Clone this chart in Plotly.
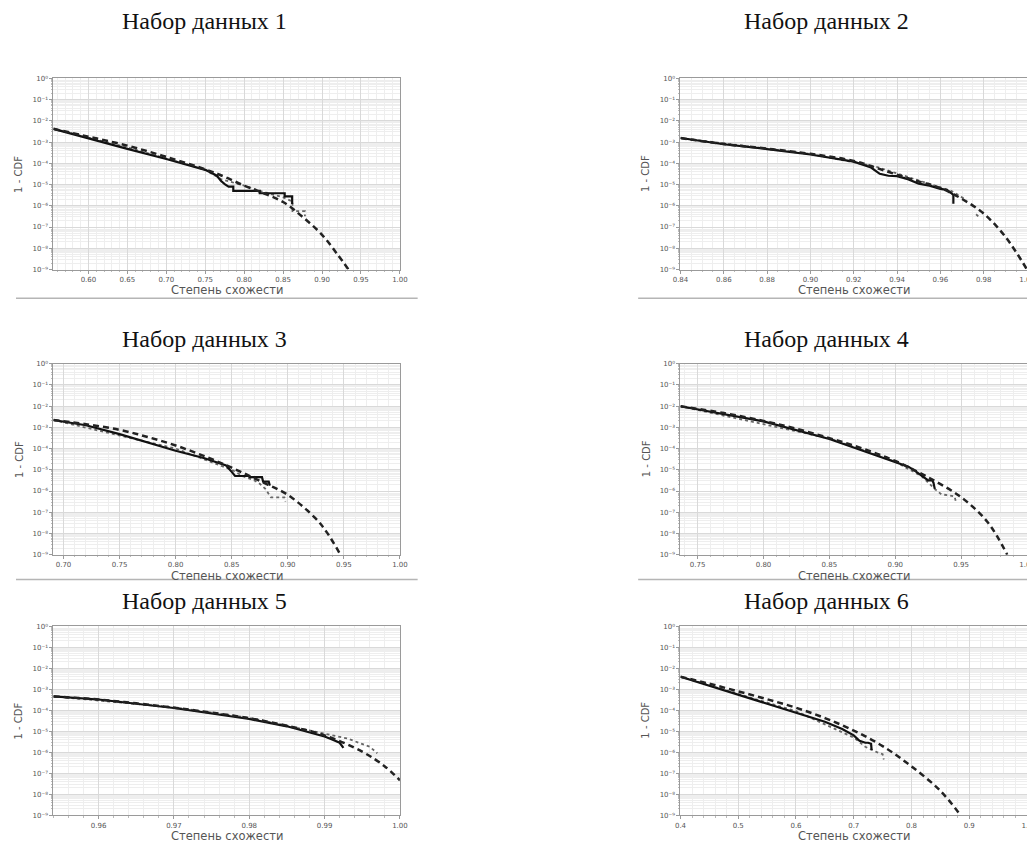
import plotly.graph_objects as go

# page body has an 8px default margin; the figure is sized to fit the remaining window
OFF = 8
W, H = 1035 - OFF, 842 - OFF

titles = ["Набор данных 1", "Набор данных 2", "Набор данных 3",
          "Набор данных 4", "Набор данных 5", "Набор данных 6"]
x_label = "Степень схожести"
y_label = "1 - CDF"

# x ranges and major ticks per panel
x_ranges = [[0.555, 1.0], [0.84, 1.0], [0.691, 1.0], [0.737, 1.0], [0.954, 1.0], [0.4, 1.0]]
x_ticks = [
    [0.60, 0.65, 0.70, 0.75, 0.80, 0.85, 0.90, 0.95, 1.00],
    [0.84, 0.86, 0.88, 0.90, 0.92, 0.94, 0.96, 0.98, 1.00],
    [0.70, 0.75, 0.80, 0.85, 0.90, 0.95, 1.00],
    [0.75, 0.80, 0.85, 0.90, 0.95, 1.00],
    [0.96, 0.97, 0.98, 0.99, 1.00],
    [0.4, 0.5, 0.6, 0.7, 0.8, 0.9, 1.0],
]
x_fmt = [".2f", ".2f", ".2f", ".2f", ".2f", ".1f"]
x_minor = [0.01, 0.005, 0.01, 0.01, 0.002, 0.02]

y_tick_vals = [1e0, 1e-1, 1e-2, 1e-3, 1e-4, 1e-5, 1e-6, 1e-7, 1e-8, 1e-9]
y_tick_text = ["10⁰", "10⁻¹", "10⁻²", "10⁻³", "10⁻⁴", "10⁻⁵", "10⁻⁶", "10⁻⁷", "10⁻⁸", "10⁻⁹"]

# ---- Panel 1 ----
fit1_x = [0.555, 0.60, 0.65, 0.70, 0.75, 0.775, 0.80, 0.825, 0.85, 0.875, 0.90, 0.92, 0.934]
fit1_y = [4.2e-3, 1.8e-3, 6.8e-4, 2.0e-4, 5.2e-5, 2.3e-5, 8.9e-6, 3.9e-6, 1.5e-6, 3.0e-7, 4.3e-8, 5.0e-9, 1.0e-9]
emp1_x = [0.555, 0.60, 0.65, 0.70, 0.75, 0.765, 0.77, 0.775, 0.78, 0.786, 0.786, 0.82, 0.82, 0.852, 0.852, 0.8616, 0.8616]
emp1_y = [4.2e-3, 1.45e-3, 4.8e-4, 1.6e-4, 4.9e-5, 2.6e-5, 1.5e-5, 1.05e-5, 8e-6, 8e-6, 5e-6, 5e-6, 3.9e-6, 3.9e-6, 2.75e-6, 2.75e-6, 1.2e-6]
alt1_x = [0.555, 0.65, 0.75, 0.77, 0.80, 0.82, 0.85, 0.862, 0.862, 0.878, 0.878]
alt1_y = [4.2e-3, 5.6e-4, 5.0e-5, 1.8e-5, 8.9e-6, 5e-6, 2.5e-6, 1.6e-6, 5.6e-7, 5.6e-7, 3.2e-7]

# ---- Panel 2 ----
fit2_x = [0.84, 0.86, 0.88, 0.90, 0.92, 0.93, 0.94, 0.95, 0.96, 0.97, 0.98, 0.99, 1.0]
fit2_y = [1.55e-3, 8.1e-4, 4.9e-4, 2.8e-4, 1.3e-4, 6.3e-5, 2.9e-5, 1.4e-5, 6.9e-6, 2.1e-6, 4.3e-7, 3.5e-8, 1e-9]
emp2_x = [0.84, 0.86, 0.88, 0.90, 0.92, 0.928, 0.932, 0.936, 0.94, 0.945, 0.95, 0.955, 0.96, 0.963, 0.965, 0.966, 0.966]
emp2_y = [1.55e-3, 7.9e-4, 4.7e-4, 2.6e-4, 1.2e-4, 6.3e-5, 3.2e-5, 2.6e-5, 2.5e-5, 1.8e-5, 1.1e-5, 8.9e-6, 6.3e-6, 5.6e-6, 4e-6, 3.2e-6, 1.26e-6]
alt2_x = [0.84, 0.90, 0.93, 0.95, 0.96, 0.965, 0.97, 0.972, None, 0.9765, 0.9775]
alt2_y = [1.55e-3, 2.75e-4, 7.1e-5, 1.6e-5, 7.9e-6, 5e-6, 2.5e-6, 2e-6, None, 4e-7, 3.2e-7]

# ---- Panel 3 ----
fit3_x = [0.691, 0.72, 0.75, 0.775, 0.80, 0.825, 0.85, 0.875, 0.90, 0.925, 0.935, 0.947]
fit3_y = [2.2e-3, 1.4e-3, 7.6e-4, 3.5e-4, 1.4e-4, 4.5e-5, 1.26e-5, 3.0e-6, 6.6e-7, 5e-8, 1.1e-8, 1e-9]
emp3_x = [0.691, 0.72, 0.75, 0.775, 0.80, 0.825, 0.845, 0.85, 0.853, 0.865, 0.866, 0.877, 0.878, 0.883, 0.884]
emp3_y = [2.2e-3, 1.25e-3, 4.8e-4, 2.0e-4, 7.9e-5, 3.6e-5, 1.6e-5, 8e-6, 5.1e-6, 5.1e-6, 4.5e-6, 4.5e-6, 2.8e-6, 2.8e-6, 1.8e-6]
alt3_x = [0.691, 0.80, 0.85, 0.86, 0.87, 0.875, 0.88, 0.885, 0.89, 0.897, 0.898]
alt3_y = [2.2e-3, 1e-4, 1e-5, 5e-6, 3.2e-6, 2.2e-6, 1.26e-6, 5e-7, 5e-7, 5e-7, 3.2e-7]

# ---- Panel 4 ----
fit4_x = [0.737, 0.77, 0.80, 0.825, 0.85, 0.875, 0.90, 0.925, 0.95, 0.97, 0.985]
fit4_y = [9.8e-3, 4.7e-3, 2.0e-3, 8.5e-4, 3.1e-4, 1e-4, 2.6e-5, 4.4e-6, 5.1e-7, 3.5e-8, 1e-9]
emp4_x = [0.737, 0.80, 0.85, 0.90, 0.91, 0.915, 0.92, 0.925, 0.928, 0.929, 0.93]
emp4_y = [9.8e-3, 1.9e-3, 2.8e-4, 2.2e-5, 1.4e-5, 8.9e-6, 5.6e-6, 3.2e-6, 3.2e-6, 2.5e-6, 1.26e-6]
alt4_x = [0.737, 0.85, 0.90, 0.92, 0.93, 0.935, 0.94, 0.945, 0.946]
alt4_y = [9.8e-3, 3e-4, 2.4e-5, 5e-6, 1.26e-6, 7e-7, 6.3e-7, 5.6e-7, 3.2e-7]

# ---- Panel 5 ----
fit5_x = [0.954, 0.96, 0.965, 0.97, 0.975, 0.98, 0.985, 0.99, 0.995, 0.998, 1.0]
fit5_y = [4.5e-4, 3.2e-4, 2.1e-4, 1.3e-4, 7.6e-5, 4.1e-5, 1.8e-5, 6.3e-6, 1.05e-6, 2.1e-7, 4.6e-8]
emp5_x = [0.954, 0.96, 0.97, 0.98, 0.985, 0.99, 0.991, 0.992, 0.9925]
emp5_y = [4.5e-4, 3.2e-4, 1.26e-4, 3.8e-5, 1.7e-5, 5.6e-6, 4e-6, 2.8e-6, 1.6e-6]
alt5_x = [0.954, 0.97, 0.98, 0.99, 0.993, 0.996, 0.997]
alt5_y = [4.5e-4, 1.35e-4, 4.3e-5, 7.6e-6, 4.5e-6, 1.8e-6, 8.9e-7]

# ---- Panel 6 ----
fit6_x = [0.4, 0.45, 0.5, 0.55, 0.6, 0.65, 0.7, 0.75, 0.8, 0.85, 0.885]
fit6_y = [3.9e-3, 1.8e-3, 7.8e-4, 3.3e-4, 1.3e-4, 4.2e-5, 1.07e-5, 1.95e-6, 2.1e-7, 1.45e-8, 1e-9]
emp6_x = [0.4, 0.5, 0.6, 0.65, 0.68, 0.7, 0.71, 0.72, 0.725, 0.73, 0.731]
emp6_y = [3.9e-3, 5.5e-4, 7.8e-5, 2.8e-5, 1.26e-5, 6.3e-6, 3.5e-6, 2.8e-6, 2.8e-6, 2.5e-6, 1.26e-6]
alt6_x = [0.4, 0.6, 0.7, 0.72, 0.74, 0.75, 0.752]
alt6_y = [3.9e-3, 8.9e-5, 5e-6, 1.8e-6, 1e-6, 8e-7, 4.5e-7]

fits = [(fit1_x, fit1_y), (fit2_x, fit2_y), (fit3_x, fit3_y), (fit4_x, fit4_y), (fit5_x, fit5_y), (fit6_x, fit6_y)]
emps = [(emp1_x, emp1_y), (emp2_x, emp2_y), (emp3_x, emp3_y), (emp4_x, emp4_y), (emp5_x, emp5_y), (emp6_x, emp6_y)]
alts = [(alt1_x, alt1_y), (alt2_x, alt2_y), (alt3_x, alt3_y), (alt4_x, alt4_y), (alt5_x, alt5_y), (alt6_x, alt6_y)]

# layout geometry in window pixels
col_px = [(46, 398), (683, 1035)]
row_px = [(75, 268), (363, 556), (628, 819)]
title_cx = [199, 831]
title_cy = [17, 338, 603]
sep_y = [297, 581]
sep_x = [(8, 416), (640, 1035)]


def px_x(p):
    return (p - OFF) / W


def px_y(p):
    return 1 - (p - OFF) / H


minor_y = [m * 10.0 ** (-e) for e in range(1, 10) for m in range(2, 10)]

fig = go.Figure()
layout = dict(width=W, height=H, margin=dict(l=0, r=0, t=0, b=0),
              paper_bgcolor="white", plot_bgcolor="white", showlegend=False)
annotations = []
shapes = []

tick_font = dict(family="DejaVu Sans", size=7, color="#555555")

for i in range(6):
    r, c = divmod(i, 2)
    n = "" if i == 0 else str(i + 1)
    xa, ya = "x" + n, "y" + n
    x0, x1 = col_px[c]
    y0, y1 = row_px[r]
    dom_x = [px_x(x0), min(1.0, px_x(x1))]
    dom_y = [px_y(y1), px_y(y0)]

    fx, fy = fits[i]
    ex, ey = emps[i]
    ax_, ay_ = alts[i]
    fig.add_trace(go.Scatter(x=ax_, y=ay_, mode="lines", xaxis=xa, yaxis=ya,
                             line=dict(color="#666666", width=1.8, dash="dot")))
    fig.add_trace(go.Scatter(x=ex, y=ey, mode="lines", xaxis=xa, yaxis=ya,
                             line=dict(color="#111111", width=2.2)))
    fig.add_trace(go.Scatter(x=fx, y=fy, mode="lines", xaxis=xa, yaxis=ya,
                             line=dict(color="#222222", width=2.5, dash="6px,4px", shape="spline")))

    layout["xaxis" + n] = dict(
        domain=dom_x, anchor=ya, range=x_ranges[i], tickmode="array",
        tickvals=x_ticks[i], tickformat=x_fmt[i], tickfont=tick_font,
        showgrid=True, gridcolor="#d9d9d9", gridwidth=1,
        showline=True, linecolor="#9a9a9a", linewidth=1, mirror=True,
        ticks="outside", ticklen=3, tickcolor="#9a9a9a", zeroline=False,
        minor=dict(dtick=x_minor[i], tick0=0, showgrid=True, gridcolor="#eeeeee", gridwidth=1,
                   ticks="outside", ticklen=1.5, tickcolor="#bbbbbb"),
        fixedrange=True,
    )
    layout["yaxis" + n] = dict(
        domain=dom_y, anchor=xa, type="log", range=[-9, 0], tickmode="array",
        tickvals=y_tick_vals, ticktext=y_tick_text, tickfont=tick_font,
        showgrid=True, gridcolor="#d9d9d9", gridwidth=1,
        showline=True, linecolor="#9a9a9a", linewidth=1, mirror=True,
        ticks="outside", ticklen=3, tickcolor="#9a9a9a", zeroline=False,
        minor=dict(tickmode="array", tickvals=minor_y, showgrid=True, gridcolor="#eeeeee",
                   gridwidth=1, ticks="outside", ticklen=1.5, tickcolor="#bbbbbb"),
        fixedrange=True,
    )

    annotations.append(dict(text=titles[i], x=px_x(title_cx[c]), y=px_y(title_cy[r]),
                            xref="paper", yref="paper", xanchor="center", yanchor="middle",
                            showarrow=False,
                            font=dict(family="Liberation Serif, Times New Roman, serif", size=24, color="#111111")))
    annotations.append(dict(text=x_label, x=px_x((x0 + x1) / 2), y=px_y(y1 + 21),
                            xref="paper", yref="paper", xanchor="center", yanchor="middle",
                            showarrow=False,
                            font=dict(family="DejaVu Sans", size=11.5, color="#555555")))
    annotations.append(dict(text=y_label, x=px_x(x0 - 35), y=px_y((y0 + y1) / 2),
                            xref="paper", yref="paper", xanchor="center", yanchor="middle",
                            textangle=-90, showarrow=False,
                            font=dict(family="DejaVu Sans", size=10, color="#555555")))

for r in range(2):
    for c in range(2):
        sx0, sx1 = sep_x[c]
        shapes.append(dict(type="line", xref="paper", yref="paper",
                           x0=px_x(sx0), x1=px_x(sx1), y0=px_y(sep_y[r]), y1=px_y(sep_y[r]),
                           line=dict(color="#b5b5b5", width=1.5)))

layout["annotations"] = annotations
layout["shapes"] = shapes
fig.update_layout(**layout)
fig.write_html("out.html")
